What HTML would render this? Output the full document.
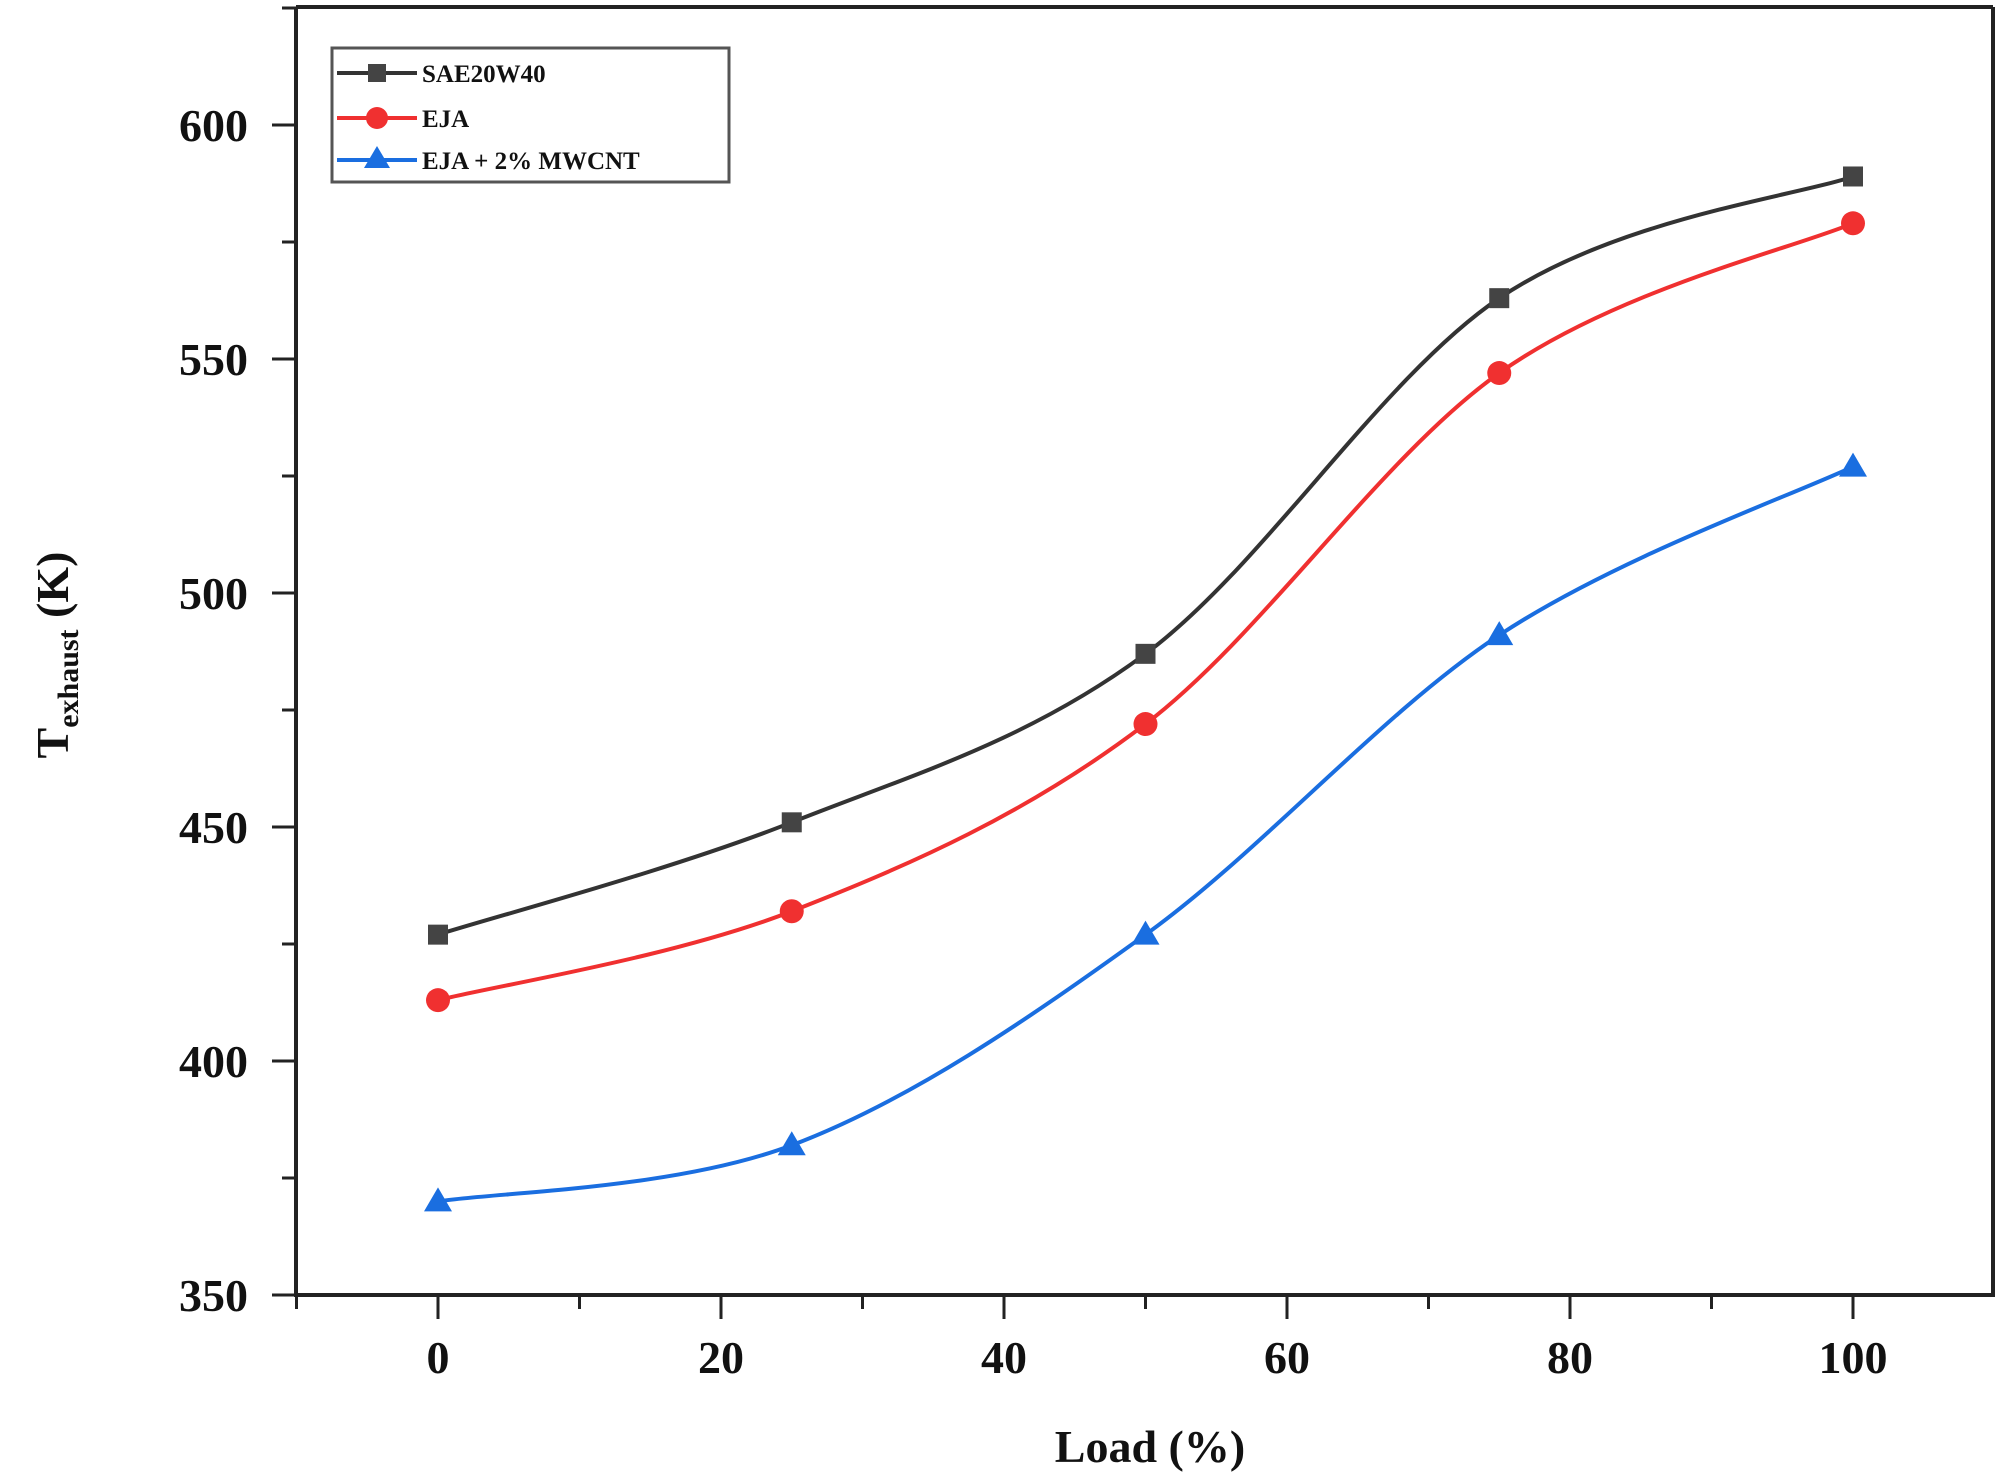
<!DOCTYPE html>
<html><head><meta charset="utf-8"><style>
html,body{margin:0;padding:0;background:#fff;}
svg{display:block;}
text{font-family:"Liberation Serif",serif;font-weight:bold;fill:#111;}
</style></head><body>
<svg id="s" width="2008" height="1480" viewBox="0 0 2008 1480" xmlns="http://www.w3.org/2000/svg">
<rect width="2008" height="1480" fill="#fff"/>
<g id="axes" stroke="#222" stroke-width="4" fill="none">
<line x1="296" y1="7" x2="1993" y2="7"/>
<line x1="296" y1="7" x2="296" y2="1295"/>
<line x1="1993" y1="7" x2="1993" y2="1295"/>
<line x1="294" y1="1295" x2="1995" y2="1295"/>
</g>
<g id="ticks" stroke="#222" stroke-width="3"></g>
<g id="labels" font-size="46" text-anchor="middle"></g>
<g id="series"></g>
<rect x="332" y="48" width="397" height="134" fill="#fff" stroke="#555" stroke-width="3"/>
<g font-size="25">
<line x1="337" y1="73" x2="417" y2="73" stroke="#333" stroke-width="4"/><rect x="368" y="64" width="18" height="18" fill="#444"/>
<text x="422" y="82">SAE20W40</text>
<line x1="337" y1="118" x2="417" y2="118" stroke="#f03030" stroke-width="4"/><circle cx="377" cy="118" r="11" fill="#f03030"/>
<text x="422" y="127">EJA</text>
<line x1="337" y1="160" x2="417" y2="160" stroke="#1a6ee0" stroke-width="4"/><polygon points="377,146 390,168 364,168" fill="#1a6ee0"/>
<text x="422" y="169">EJA + 2% MWCNT</text>
</g>
<text x="1150" y="1462" font-size="46" text-anchor="middle">Load (%)</text>
<text transform="translate(68,655) rotate(-90)" font-size="46" text-anchor="middle">T<tspan font-size="30" dy="10">exhaust</tspan><tspan dy="-10"> (K)</tspan></text>
</svg>
<script>
var NS="http://www.w3.org/2000/svg";
function X(v){return 438+v*14.15;}
function Y(v){return 1295-(v-350)*4.68;}
function el(t,a,p){var e=document.createElementNS(NS,t);for(var k in a)e.setAttribute(k,a[k]);document.getElementById(p).appendChild(e);return e;}
for(var v=-10;v<=110;v+=10){var x=X(v);if(x<296||x>1993)continue;var maj=(v%20==0);el("line",{x1:x,y1:1295,x2:x,y2:1295+(maj?24:14)},"ticks");if(maj&&v>=0&&v<=100){var t=el("text",{x:x,y:1373},"labels");t.textContent=v;}}
for(var v=350;v<=625;v+=25){var y=Y(v);if(y<7)continue;var maj=(v%50==0);el("line",{x1:296,y1:y,x2:296-(maj?24:14),y2:y},"ticks");if(maj){var t=el("text",{x:248,y:y+16,"text-anchor":"end"},"labels");t.textContent=v;}}
var xs=[0,25,50,75,100];
var S=[[[427,451,487,563,589],"#333","sq"],[[413,432,472,547,579],"#f03030","ci"],[[370,382,427,491,527],"#1a6ee0","tr"]];
S.forEach(function(s){var P=xs.map(function(x,i){return [X(x),Y(s[0][i])];});
var d="M"+P[0][0]+","+P[0][1];
for(var i=0;i<P.length-1;i++){var p0=P[Math.max(i-1,0)],p1=P[i],p2=P[i+1],p3=P[Math.min(i+2,P.length-1)];
d+=" C"+(p1[0]+(p2[0]-p0[0])/6)+","+(p1[1]+(p2[1]-p0[1])/6)+" "+(p2[0]-(p3[0]-p1[0])/6)+","+(p2[1]-(p3[1]-p1[1])/6)+" "+p2[0]+","+p2[1];}
el("path",{d:d,fill:"none",stroke:s[1],"stroke-width":4},"series");
P.forEach(function(p){if(s[2]=="sq")el("rect",{x:p[0]-10,y:p[1]-10,width:20,height:20,fill:"#444"},"series");
else if(s[2]=="ci")el("circle",{cx:p[0],cy:p[1],r:12,fill:s[1]},"series");
else el("polygon",{points:p[0]+","+(p[1]-14)+" "+(p[0]+14)+","+(p[1]+10)+" "+(p[0]-14)+","+(p[1]+10),fill:s[1]},"series");});});
</script>
</body></html>
